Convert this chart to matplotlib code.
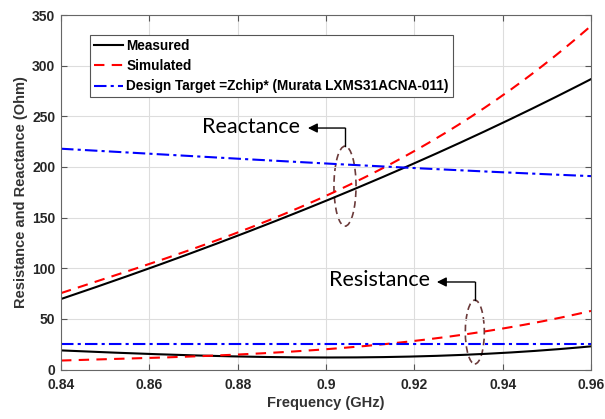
import numpy as np
import matplotlib
matplotlib.use("Agg")
import matplotlib.pyplot as plt
from matplotlib.patches import Ellipse

freq = [0.84, 0.86, 0.88, 0.90, 0.92, 0.94, 0.96]
meas_X = [70, 99, 132, 168, 203, 243, 287]
sim_X = [76, 103, 135, 173, 216, 269, 340]
target_X = [218, 213, 208, 203.5, 199, 194.5, 191]
meas_R = [19, 15, 13, 12, 13, 16, 23]
sim_R = [9, 11, 15, 20, 28.5, 40, 58]
target_R = [25, 25, 25, 25, 25, 25, 25]

plt.rcParams['font.family'] = ['Liberation Sans', 'DejaVu Sans']

fig = plt.figure(figsize=(6.05, 4.19), dpi=100)
L, R, T, B = 61, 591, 15, 369.5
ax = fig.add_axes([L/605, 1-B/419, (R-L)/605, (B-T)/419])

fs = np.linspace(freq[0], freq[-1], 200)
def smooth(y):
    c = np.polyfit(freq, y, 3)
    return np.polyval(c, fs)

dash = (0, (5, 3.5))
dashdot = (0, (6, 2, 1.5, 2))
l1, = ax.plot(fs, smooth(meas_X), color='black', lw=1.5, label='Measured')
l2, = ax.plot(fs, smooth(sim_X), color='red', lw=1.5, ls=dash, label='Simulated')
l3, = ax.plot(fs, smooth(target_X), color='blue', lw=1.5, ls=dashdot,
              label='Design Target =Zchip* (Murata LXMS31ACNA-011)')
ax.plot(fs, smooth(meas_R), color='black', lw=1.5)
ax.plot(fs, smooth(sim_R), color='red', lw=1.5, ls=dash)
ax.plot(fs, smooth(target_R), color='blue', lw=1.5, ls=dashdot)

ax.set_xlim(0.84, 0.96)
ax.set_ylim(0, 350)
ax.set_xticks([0.84, 0.86, 0.88, 0.90, 0.92, 0.94, 0.96])
ax.set_xticklabels(['0.84', '0.86', '0.88', '0.9', '0.92', '0.94', '0.96'])
ax.set_yticks(range(0, 351, 50))
ax.grid(True, color='#dddddd', lw=0.8)
for lab in ax.get_xticklabels() + ax.get_yticklabels():
    lab.set_fontweight('bold')
    lab.set_fontsize(10)
ax.tick_params(direction='in', length=4, color='#555555', pad=4, labelcolor='#262626',
               top=True, right=True)
ax.tick_params(axis='x', pad=6)
for s in ax.spines.values():
    s.set_color('#666666')
ax.set_xlabel('Frequency (GHz)', fontsize=10.5, fontweight='bold', color='#333333', labelpad=3)
ax.set_ylabel('Resistance and Reactance (Ohm)', fontsize=10.5, fontweight='bold', color='#333333')
ax.yaxis.set_label_coords(-0.062, 0.5)

leg = ax.legend(handles=[l1, l2, l3], loc='upper left',
                bbox_to_anchor=((90-L)/(R-L), 1-(35-T)/(B-T)),
                prop={'weight': 'bold', 'size': 9.8}, handlelength=2.1, handletextpad=0.25,
                borderpad=0.3, labelspacing=0.45, fancybox=False, framealpha=1,
                edgecolor='#555555', borderaxespad=0)
leg.get_frame().set_linewidth(0.8)

anno_font = ['Lato', 'DejaVu Sans']
ecol = '#6b3a3a'
# Reactance
ax.text(0.8830, 239.4, 'Reactance', fontsize=15.5, family=anno_font, ha='center', va='center')
ax.add_patch(Ellipse((0.9043, 181), 0.0050, 79, fill=False, ec=ecol, ls=(0, (4, 2.5)), lw=1.2))
ax.plot([0.9043, 0.9043], [220.5, 238.4], color='black', lw=1)
ax.annotate('', xy=(0.8959, 238.4), xytext=(0.9043, 238.4),
            arrowprops=dict(arrowstyle='-|>', color='black', lw=1, mutation_scale=14,
                            shrinkA=0, shrinkB=0))
# Resistance
ax.text(0.9120, 88.4, 'Resistance', fontsize=15.5, family=anno_font, ha='center', va='center')
ax.add_patch(Ellipse((0.9337, 37), 0.0043, 63, fill=False, ec=ecol, ls=(0, (4, 2.5)), lw=1.2))
ax.plot([0.9337, 0.9337], [68.5, 86.4], color='black', lw=1)
ax.annotate('', xy=(0.9251, 86.4), xytext=(0.9337, 86.4),
            arrowprops=dict(arrowstyle='-|>', color='black', lw=1, mutation_scale=14,
                            shrinkA=0, shrinkB=0))

fig.savefig('out.png', dpi=100)
